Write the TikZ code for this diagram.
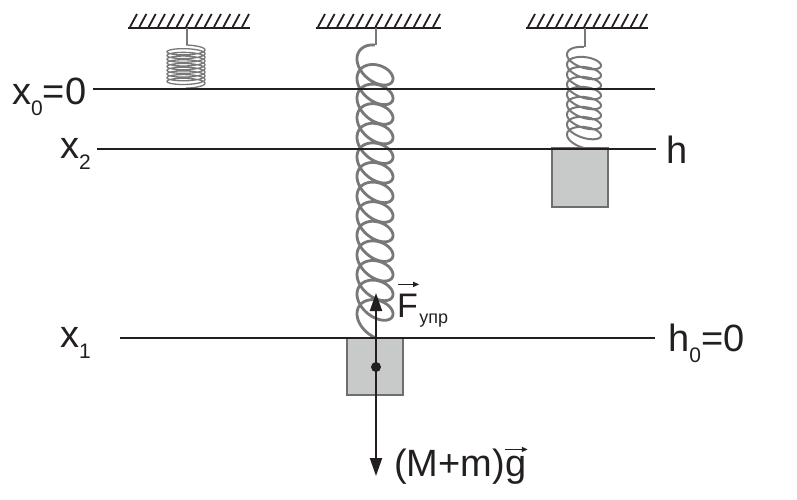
\documentclass[tikz,border=0pt]{standalone}
\usepackage{fontspec}
\setmainfont{Liberation Sans}
\usetikzlibrary{arrows.meta,calc}
\definecolor{ink}{HTML}{231F20}
\definecolor{springgray}{HTML}{787878}
\definecolor{blockfill}{HTML}{C8C9C9}
\definecolor{blockedge}{HTML}{6E6E6E}
\newcommand{\lowsub}[1]{\raisebox{-0.3em}{\fontsize{21}{21}\selectfont #1}}
\begin{document}
\begin{tikzpicture}[x=1pt,y=-1pt,
  ceilline/.style={draw=ink,line width=2.4pt},
  hatchline/.style={draw=ink,line width=1.8pt},
  levelline/.style={draw=ink,line width=1.9pt},
  wire/.style={draw=springgray,line width=1.5pt},
  coil/.style={draw=springgray,smooth},
  massblock/.style={draw=blockedge,fill=blockfill,line width=2.2pt,inner sep=0pt},
  force/.style={draw=ink,line width=2pt,-{Triangle[width=12pt,length=18pt]}},
  vecarrow/.style={draw=ink,line width=1.3pt,-{Triangle[width=5pt,length=6pt]}},
  lbl/.style={font=\fontsize{38}{38}\selectfont,inner sep=0pt,anchor=base west,text=ink},
  sublbl/.style={font=\fontsize{18}{18}\selectfont,inner sep=0pt,anchor=base west,text=ink}]
\useasboundingbox (0,0) rectangle (797,499);
\fill[white] (0,0) rectangle (797,499);

% ceilings
\foreach \a/\b in {128/250,316/441,526/648}{
  \draw[ceilline] (\a,28) -- (\b,28);
  \foreach \i in {0,...,12}
    \draw[hatchline] ({\a+2+\i*(\b-\a-10)/12},27) -- ++(7,-13);
}

% left spring (compressed)
\coordinate (lt) at (187,28);
\coordinate (lc) at (187,45);
\draw[wire] (lt) -- (lc);
\draw[coil,line width=1.3pt] plot[domain=0:{2*pi*9+pi},samples=400]
  ({186+19*sin(\x r)},{49+3.7*\x/(2*pi)-4*cos(\x r)});

% middle spring (stretched)
\coordinate (mt) at (376,28);
\coordinate (mc) at (376,45);
\draw[wire] (mt) -- (mc);
\draw[coil,line width=2.8pt] plot[domain=0:{2*pi*13+pi},samples=700]
  ({375-18*sin(\x r)},{59+19.6*\x/(2*pi)-14*cos(\x r)-5*sin(\x r)});

% right spring
\coordinate (rt) at (585,28);
\coordinate (rc) at (585,47);
\draw[wire] (rt) -- (rc);
\draw[coil,line width=2pt] plot[domain=0:{2*pi*8+pi},samples=500]
  ({584-17*sin(\x r)},{55+10*\x/(2*pi)-8*cos(\x r)-3*sin(\x r)});

% blocks
\node[massblock,minimum width=56pt,minimum height=57pt] (mblock) at (375,366.5) {};
\node[massblock,minimum width=56pt,minimum height=59pt] (rblock) at (580,177.5) {};

% level lines
\draw[levelline] (93,89) -- (655,89);
\draw[levelline] (97,149) -- (656,149);
\draw[levelline] (120,338) -- (655,338);

% forces
\coordinate (cm) at (376,367);
\coordinate (ftip) at (376,293);
\coordinate (gtip) at (376,476);
\draw[force] (cm) -- (ftip);
\draw[force] (cm) -- (gtip);
\fill[ink] (cm) circle (5pt);

% labels
\node[lbl] (x0) at (12,104) {x\lowsub{0}=0};
\node[lbl] (x2) at (60,158) {x\lowsub{2}};
\node[lbl] (x1) at (60,347) {x\lowsub{1}};
\node[lbl] (hl) at (666,163) {h};
\node[lbl] (h0) at (668,351) {h\lowsub{0}=0};

\node[lbl,font=\fontsize{34}{34}\selectfont] (F) at (397,317) {F};
\node[sublbl] (Fs) at ($(F.base east)+(1,6)$) {упр};
\draw[vecarrow] ($(F.north west)+(1,-9)$) -- ($(F.north east)+(1,-9)$);

\node[lbl] (Mm) at (394,476) {(M+m)};
\node[lbl] (g) at (Mm.base east) {g};
\draw[vecarrow] ($(g.north west)+(0,-6)$) -- ($(g.north east)+(1,-6)$);
\end{tikzpicture}
\end{document}
